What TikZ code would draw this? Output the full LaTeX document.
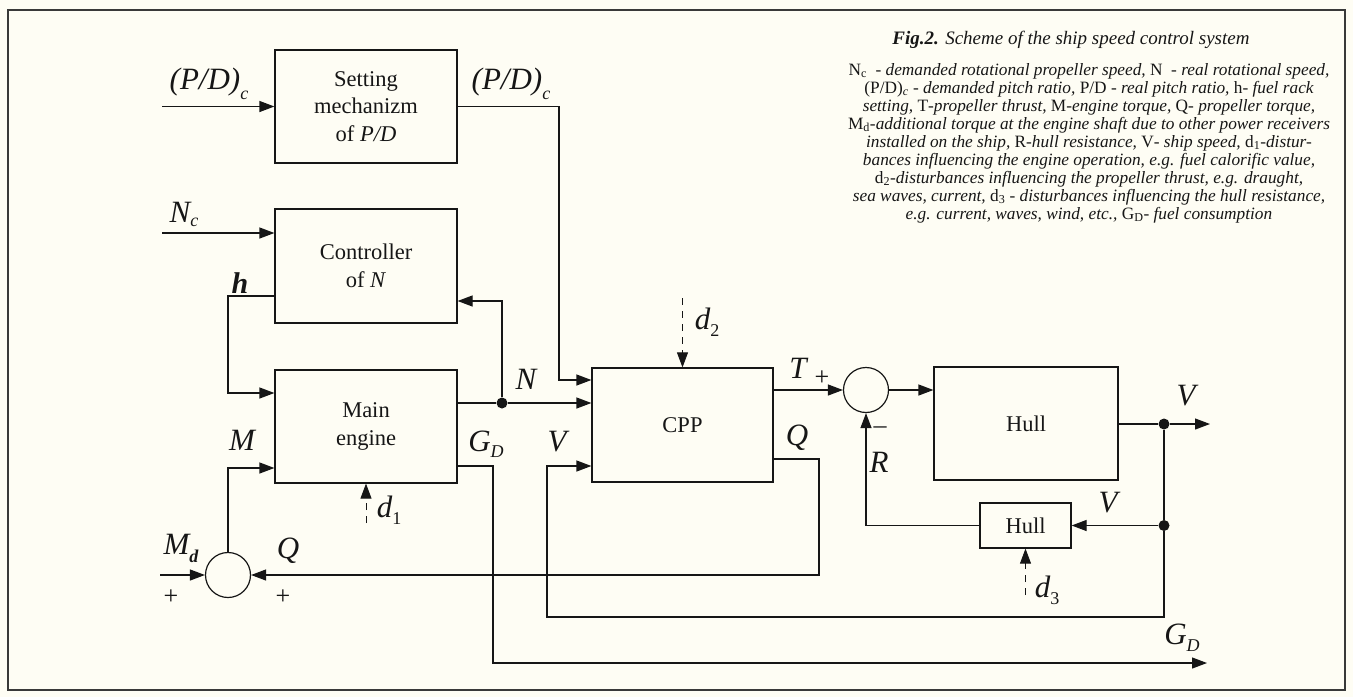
\documentclass[tikz,border=0pt]{standalone}
\usepackage{fontspec}
\setmainfont{Liberation Serif}
\usetikzlibrary{arrows.meta,calc}
\definecolor{bg}{RGB}{254,253,244}
\definecolor{ink}{RGB}{22,22,22}
\newcommand\lsub[2][-7pt]{\raisebox{#1}{\fontsize{18}{18}\selectfont #2}}
\begin{document}
\begin{tikzpicture}[x=1pt,y=-1pt,
  blk/.style={draw=ink, line width=1.2pt, inner sep=0, align=center,
    font=\fontsize{22.5}{27.5}\selectfont, text=ink},
  sumc/.style={draw=ink, circle, minimum size=45pt, inner sep=0, line width=1.2pt},
  wire/.style={draw=ink, line width=1.2pt},
  arr/.style={wire, -{Triangle[length=15pt,width=11pt]}},
  dist/.style={draw=ink, line width=0.8pt, dash pattern=on 7pt off 6pt, -{Triangle[length=15pt,width=11pt]}},
  lab/.style={inner sep=0, text=ink, font=\fontsize{31}{32}\selectfont\itshape},
  pm/.style={inner sep=0, text=ink, font=\fontsize{26}{26}\selectfont},
  dot/.style={circle, fill=ink, minimum size=11pt, inner sep=0},
  captxt/.style={inner sep=0, text=ink, align=center}]
\useasboundingbox (0,0) rectangle (1353,697);
\fill[bg] (0,0) rectangle (1353,697);
\draw[ink!85, line width=2pt] (8,10) rectangle (1345,690);

% blocks
\node[blk, minimum width=182pt, minimum height=113pt] (setb) at (366,106.5) {Setting\\mechanizm\\of \textit{P/D}};
\node[blk, minimum width=182pt, minimum height=114pt] (ctrl) at (366,266) {Controller\\of \textit{N}};
\node[blk, minimum width=182pt, minimum height=113pt] (eng) at (366,426.5) {Main\\engine};
\node[blk, minimum width=181pt, minimum height=114pt] (cpp) at (682.5,425) {CPP};
\node[blk, minimum width=184pt, minimum height=113pt] (hull) at (1026,423.5) {Hull};
\node[blk, minimum width=91pt, minimum height=45pt] (hull2) at (1025.5,525.5) {Hull};
\node[sumc] (sumT) at (866,390) {};
\node[sumc] (sumM) at (228,575) {};
\node[dot] (nj) at (502,403) {};
\node[dot] (vj1) at (1164,424) {};
\node[dot] (vj2) at (1164,525.5) {};

% free ends
\coordinate (pdin) at (162,106.5);
\coordinate (ncin) at (162,233);
\coordinate (mdin) at (160,575);
\coordinate (vout) at (1210,424);
\coordinate (gdout) at (1207,663);
\coordinate (d1s) at (366,523);
\coordinate (d2s) at (682.5,298);
\coordinate (d3s) at (1025.5,595);

% connectors
\draw[arr] (pdin) -- (setb.west);
\draw[arr] (setb.east) -- (559,106.5) -- (559,380) -- (cpp.west |- 0,380);
\draw[arr] (ncin) -- (ctrl.west |- ncin);
\draw[arr] (ctrl.west |- 0,296) -- (228,296) -- (228,393) -- (eng.west |- 0,393);
\draw[wire] (eng.east |- nj) -- (nj);
\draw[arr] (nj) -- (cpp.west |- nj);
\draw[arr] (nj) -- (502,301) -- (ctrl.east |- 0,301);
\draw[arr] (sumM.north) -- (228,468) -- (eng.west |- 0,468);
\draw[arr] (eng.east |- 0,466) -- (493,466) -- (493,663) -- (gdout);
\draw[arr] (mdin) -- (sumM.west);
\draw[arr] (cpp.east |- 0,459) -- (819,459) -- (819,575) -- (sumM.east);
\draw[arr] (cpp.east |- sumT) -- (sumT.west);
\draw[arr] (sumT.east) -- (hull.west |- sumT);
\draw[wire] (hull.east |- vj1) -- (vj1);
\draw[arr] (vj1) -- (vout);
\draw[wire] (vj1) -- (vj2);
\draw[arr] (vj2) -- (hull2.east);
\draw[arr] (vj2) -- (1164,617) -- (547,617) -- (547,466) -- (cpp.west |- 0,466);
\draw[arr] (hull2.west) -| (sumT.south);
\draw[dist] (d1s) -- (eng.south);
\draw[dist] (d2s) -- (cpp.north);
\draw[dist] (d3s) -- (hull2.south);

% labels
\node[lab] at (209,84) {(P/D)\lsub[-10pt]{c}};
\node[lab] at (511,84) {(P/D)\lsub[-10pt]{c}};
\node[lab] at (184,214) {N\lsub[-4pt]{c}};
\node[lab, font=\fontsize{30}{30}\selectfont\bfseries\itshape] at (240,283) {h};
\node[lab] at (526,379) {N};
\node[lab] at (242,440) {M};
\node[lab] at (486,444) {G\lsub[-6pt]{D}};
\node[lab] at (557,442) {V};
\node[lab] at (389,510) {d\lsub[-7pt]{\upshape 1}};
\node[lab] at (707,322) {d\lsub[-7pt]{\upshape 2}};
\node[lab] at (1047,590) {d\lsub[-7pt]{\upshape 3}};
\node[lab] at (798,368) {T};
\node[pm] at (822,378) {+};
\node[lab] at (797,438) {Q};
\node[pm] at (880,430) {\textendash};
\node[lab] at (879,462) {R};
\node[lab] at (1186,396) {V};
\node[lab] at (1108,503) {V};
\node[lab] at (181,548) {M\lsub[-8pt]{\bfseries d}};
\node[pm] at (171,597) {+};
\node[lab] at (288,551) {Q};
\node[pm] at (283,597) {+};
\node[lab] at (1182,638) {G\lsub[-7pt]{D}};

% caption
\node[captxt, font=\fontsize{19}{20}\selectfont\itshape] at (1071,40) {\textbf{Fig.2.} Scheme of the ship speed control system};
\node[captxt, font=\fontsize{17.3}{18}\selectfont\itshape, anchor=north] at (1089,63) {%
\textup{N}\textsubscript{\textup{c}} \ - demanded rotational propeller speed, \textup{N} \ - real rotational speed,\\
\textup{(P/D)}\textsubscript{c} - demanded pitch ratio, \textup{P/D} - real pitch ratio, \textup{h}- fuel rack\\
setting, \textup{T}-propeller thrust, \textup{M}-engine torque, \textup{Q}- propeller torque,\\
\textup{M}\textsubscript{\textup{d}}-additional torque at the engine shaft due to other power receivers\\
installed on the ship, \textup{R}-hull resistance, \textup{V}- ship speed, \textup{d}\textsubscript{\textup{1}}-distur-\\
bances influencing the engine operation, e.g. fuel calorific value,\\
\textup{d}\textsubscript{\textup{2}}-disturbances influencing the propeller thrust, e.g. draught,\\
sea waves, current, \textup{d}\textsubscript{\textup{3}} - disturbances influencing the hull resistance,\\
e.g. current, waves, wind, etc., \textup{G}\textsubscript{\textup{D}}- fuel consumption};
\end{tikzpicture}
\end{document}
